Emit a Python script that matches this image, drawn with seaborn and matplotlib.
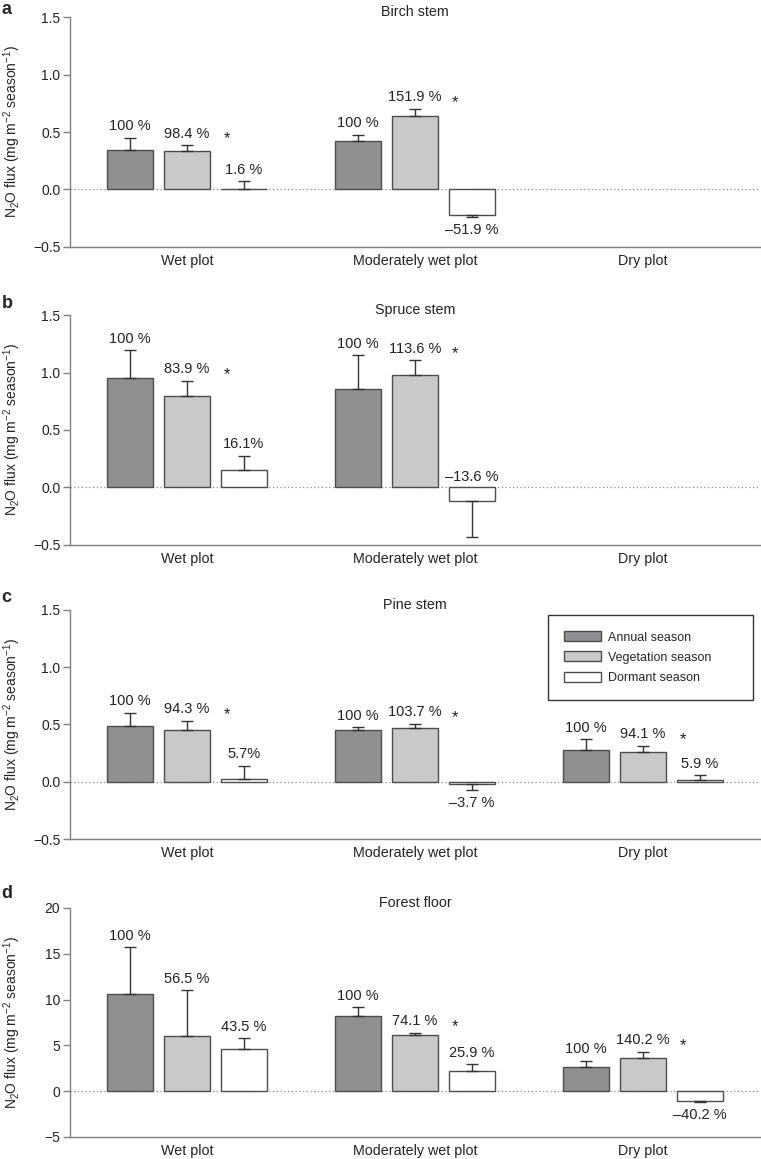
import numpy as np
import pandas as pd
import seaborn as sns
import matplotlib.pyplot as plt
from matplotlib.patches import Patch

sns.set_style("ticks")
plt.rcParams['font.family'] = ['Liberation Sans', 'DejaVu Sans']
plt.rcParams['mathtext.fontset'] = 'custom'
plt.rcParams['mathtext.rm'] = 'Liberation Sans'
plt.rcParams['mathtext.it'] = 'Liberation Sans:italic'
plt.rcParams['mathtext.bf'] = 'Liberation Sans:bold'

plots = ["Wet plot", "Moderately wet plot", "Dry plot"]
seasons = ["Annual season", "Vegetation season", "Dormant season"]
season_colors = {"Annual season": "#8f9093", "Vegetation season": "#c8c9cb", "Dormant season": "#ffffff"}

nan = np.nan
# values per plot: annual, vegetation, dormant
birch_flux = [0.342, 0.333, 0.006, 0.423, 0.642, -0.218, nan, nan, nan]
birch_err = [0.108, 0.052, 0.066, 0.055, 0.062, 0.020, nan, nan, nan]
birch_pct = ["100 %", "98.4 %", "1.6 %", "100 %", "151.9 %", "\u201351.9 %", "", "", ""]
birch_star = [True, True, False]

spruce_flux = [0.948, 0.796, 0.150, 0.860, 0.980, -0.120, nan, nan, nan]
spruce_err = [0.246, 0.131, 0.126, 0.291, 0.127, 0.307, nan, nan, nan]
spruce_pct = ["100 %", "83.9 %", "16.1%", "100 %", "113.6 %", "\u201313.6 %", "", "", ""]
spruce_star = [True, True, False]

pine_flux = [0.485, 0.456, 0.026, 0.456, 0.473, -0.016, 0.273, 0.256, 0.016]
pine_err = [0.119, 0.078, 0.114, 0.021, 0.033, 0.060, 0.099, 0.060, 0.042]
pine_pct = ["100 %", "94.3 %", "5.7%", "100 %", "103.7 %", "\u20133.7 %", "100 %", "94.1 %", "5.9 %"]
pine_star = [True, True, True]

floor_flux = [10.65, 6.01, 4.64, 8.26, 6.14, 2.15, 2.61, 3.66, -1.07]
floor_err = [5.04, 5.00, 1.12, 0.91, 0.25, 0.80, 0.72, 0.62, 0.12]
floor_pct = ["100 %", "56.5 %", "43.5 %", "100 %", "74.1 %", "25.9 %", "100 %", "140.2 %", "\u201340.2 %"]
floor_star = [False, True, True]

panels = [
    ("a", "Birch stem", birch_flux, birch_err, birch_pct, birch_star, (-0.5, 1.5), [-0.5, 0, 0.5, 1.0, 1.5]),
    ("b", "Spruce stem", spruce_flux, spruce_err, spruce_pct, spruce_star, (-0.5, 1.5), [-0.5, 0, 0.5, 1.0, 1.5]),
    ("c", "Pine stem", pine_flux, pine_err, pine_pct, pine_star, (-0.5, 1.5), [-0.5, 0, 0.5, 1.0, 1.5]),
    ("d", "Forest floor", floor_flux, floor_err, floor_pct, floor_star, (-5, 20), [-5, 0, 5, 10, 15, 20]),
]

fig = plt.figure(figsize=(7.61, 11.59), dpi=100)
boxes = [(0.7869, 0.1984), (0.5298, 0.1984), (0.2761, 0.1976), (0.0190, 0.1976)]
letter_y = [9, 303, 597, 893]

offsets = np.array([-0.25, 0, 0.25])
edge = "#4d4d4d"

for i, (letter, title, flux, err, pct, star, ylim, yticks) in enumerate(panels):
    ax = fig.add_axes([0.092, boxes[i][0], 0.9067, boxes[i][1]])
    df = pd.DataFrame({"plot": np.repeat(plots, 3), "season": seasons * 3, "flux": flux})
    sns.barplot(data=df, x="plot", y="flux", hue="season", order=plots, hue_order=seasons,
                palette=season_colors, width=0.75, gap=0.2, edgecolor=edge, linewidth=1,
                errorbar=None, legend=False, ax=ax, zorder=2)

    vals = np.array(flux)
    errs = np.array(err)
    xs = np.repeat(np.arange(3), 3) + np.tile(offsets, 3)
    m = ~np.isnan(vals)
    lower = np.where(vals < 0, errs, 0)
    upper = np.where(vals >= 0, errs, 0)
    ax.errorbar(xs[m], vals[m], yerr=[lower[m], upper[m]], fmt="none", ecolor="#333333",
                elinewidth=1, capsize=4.5, capthick=1, zorder=3)

    ax.axhline(0, color="#8a8a8a", lw=0.9, ls=(0, (1, 2)), zorder=1)
    ax.set_xlim(-0.513, 2.513)
    ax.set_ylim(*ylim)
    ax.set_yticks(yticks)
    ppu = ax.bbox.height / (ylim[1] - ylim[0])

    ends = np.where(vals >= 0, vals + errs, vals - errs)
    for k in np.where(m)[0]:
        if vals[k] >= 0:
            ax.annotate(pct[k], (xs[k], ends[k]), xytext=(0, 8.3), textcoords="offset points",
                        ha="center", va="center", fontsize=10.5, color="#222222")
        elif (ends[k] - ylim[0]) * ppu < 24:
            ax.annotate(pct[k], (xs[k], 0), xytext=(0, 7.4), textcoords="offset points",
                        ha="center", va="center", fontsize=10.5, color="#222222")
        else:
            ax.annotate(pct[k], (xs[k], ends[k]), xytext=(0, -9.3), textcoords="offset points",
                        ha="center", va="center", fontsize=10.5, color="#222222")

    for j in range(3):
        if star[j]:
            veg = j * 3 + 1
            ax.annotate("*", (j + 0.25 - 0.075, ends[veg]), xytext=(0, 4.5), textcoords="offset points",
                        ha="center", va="center", fontsize=12, color="#222222")

    ax.annotate(title, (0.5, 1), xycoords="axes fraction", xytext=(0, 3.5), textcoords="offset points",
                ha="center", va="center", fontsize=10.3, color="#222222")

    sns.despine(ax=ax)
    for s in ["left", "bottom"]:
        ax.spines[s].set_color("#808080")
        ax.spines[s].set_linewidth(1)
    ax.tick_params(axis="y", length=5, width=1, color="#808080", labelsize=10, pad=2, labelcolor="#222222")
    ax.tick_params(axis="x", length=0, labelsize=10.3, pad=5, labelcolor="#222222")
    ax.set_xlabel("")
    ax.set_ylabel(r"N$_2$O flux (mg m$^{-2}$ season$^{-1}$)", fontsize=10, color="#222222")
    ax.yaxis.set_label_coords(-0.068, 0.5)

    fig.text(0.002, 1 - letter_y[i] / 1159, letter, fontsize=13, fontweight="bold", va="center", ha="left")

    if letter == "c":
        handles = [Patch(facecolor=season_colors[s], edgecolor=edge, linewidth=1, label=s) for s in seasons]
        leg = ax.legend(handles=handles, loc="upper left", bbox_to_anchor=(0.693, 0.0, 0.297, 0.978),
                        mode="expand", fontsize=9, frameon=True, fancybox=False, framealpha=1,
                        borderpad=1.3, labelspacing=0.63, handlelength=2.9, handleheight=0.85,
                        handletextpad=0.6, borderaxespad=0)
        leg.get_frame().set_edgecolor("#333333")
        leg.get_frame().set_linewidth(1)

fig.savefig("out.png", dpi=100)
